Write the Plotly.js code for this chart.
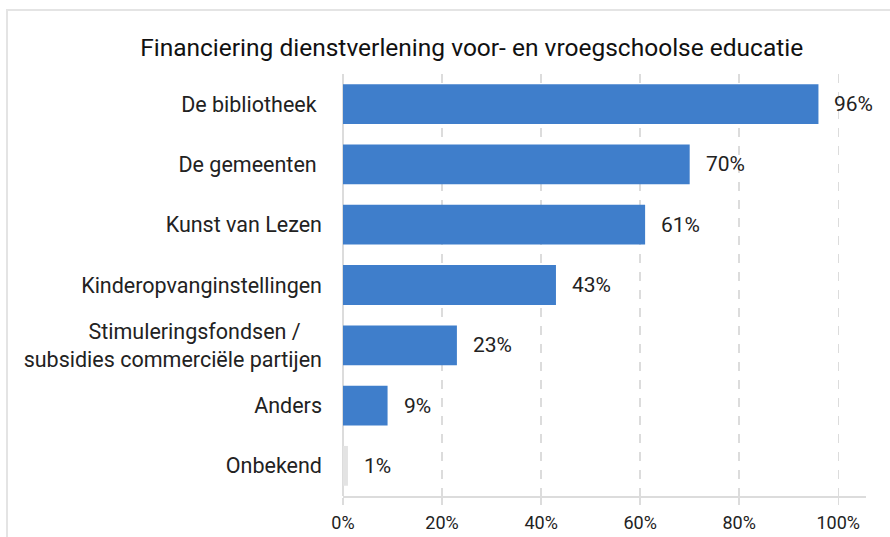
<!DOCTYPE html>
<html>
<head>
<meta charset="utf-8">
<script src="https://cdn.plot.ly/plotly-3.0.1.min.js"></script>
<style>
  body { margin: 0; background: #fff; }
  #plot { position: absolute; left: 0; top: 0; width: 890px; height: 537px; }
  #frame { position: absolute; left: 6px; top: 9px; width: 884px; height: 528px;
           border-left: 2px solid #e4e4e4; border-top: 2px solid #e4e4e4; pointer-events: none; }
</style>
</head>
<body>
<div id="plot"></div>
<div id="frame"></div>
<script>
// categorieen, van boven naar beneden
var categories = ['De bibliotheek&nbsp;', 'De gemeenten&nbsp;', 'Kunst van Lezen', 'Kinderopvanginstellingen',
                  'Stimuleringsfondsen /&nbsp;&nbsp;&nbsp;&nbsp;<br>subsidies commerciële partijen', 'Anders', 'Onbekend'];
var values = [96, 70, 61, 43, 23, 9, 1];
var barColors = ['#3f7ecb', '#3f7ecb', '#3f7ecb', '#3f7ecb', '#3f7ecb', '#3f7ecb', '#e3e3e3'];
var tickVals = [0, 20, 40, 60, 80, 100];
var tickText = ['0%', '20%', '40%', '60%', '80%', '100%'];

var font = 'Roboto, "Noto Sans", sans-serif';

var trace = {
    type: 'bar',
    orientation: 'h',
    y: categories,
    x: values,
    marker: { color: barColors },
    width: 0.66,
    hoverinfo: 'none'
};

// percentage labels naast de balken
var annotations = values.map(function (v, i) {
    return {
        x: v, y: categories[i], xref: 'x', yref: 'y',
        text: v + '%', showarrow: false, xanchor: 'left', xshift: 14,
        font: { family: font, size: 21, color: '#222' }
    };
});

var layout = {
    width: 890, height: 537,
    margin: { l: 343, r: 24, t: 74, b: 41 },
    paper_bgcolor: '#fff', plot_bgcolor: '#fff',
    showlegend: false,
    title: {
        text: 'Financiering dienstverlening voor- en vroegschoolse educatie',
        font: { family: font, size: 24.5, color: '#111' },
        x: 0.53, xanchor: 'center', y: 0.912, yanchor: 'middle'
    },
    xaxis: {
        range: [0, 105.6],
        tickvals: tickVals, ticktext: tickText,
        showgrid: true, gridcolor: '#dcdcdc', gridwidth: 1.5, griddash: 'dash',
        zeroline: true, zerolinecolor: '#dcdcdc', zerolinewidth: 1.5,
        showline: true, linecolor: '#dcdcdc', linewidth: 1.5,
        ticks: 'outside', ticklen: 7, tickcolor: '#dcdcdc', tickwidth: 1.5,
        ticklabelstandoff: 3,
        tickfont: { family: font, size: 18, color: '#222' },
        fixedrange: true
    },
    yaxis: {
        autorange: 'reversed',
        showgrid: false, zeroline: false, showline: false,
        ticks: '', ticklabelstandoff: 20,
        tickfont: { family: font, size: 21.5, color: '#222' },
        fixedrange: true
    },
    annotations: annotations
};

Plotly.newPlot('plot', [trace], layout, { displayModeBar: false, staticPlot: true });
</script>
</body>
</html>
